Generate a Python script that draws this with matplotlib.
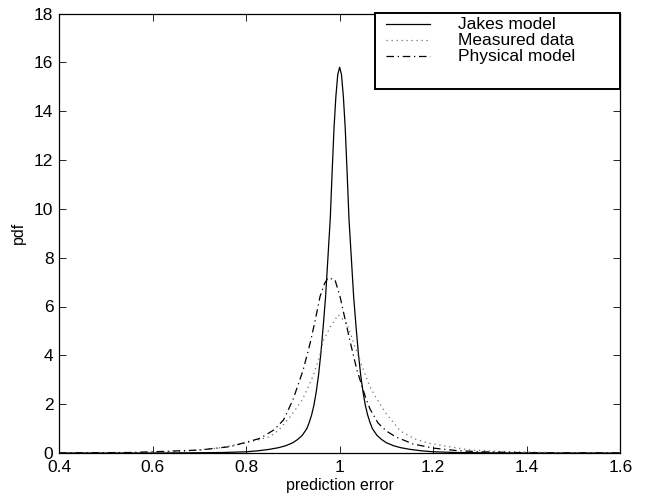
import numpy as np
import matplotlib
matplotlib.use("Agg")
import matplotlib.pyplot as plt

plt.rcParams['font.family'] = ['Liberation Sans', 'DejaVu Sans']

# Jakes model (solid)
jakes_x = [0.40, 0.60, 0.70, 0.75, 0.80, 0.825, 0.85, 0.87, 0.885, 0.90,
           0.91, 0.92, 0.93, 0.935, 0.94, 0.945, 0.95, 0.955, 0.96, 0.965,
           0.97, 0.975, 0.98, 0.984, 0.988, 0.992, 0.996, 1.000,
           1.004, 1.008, 1.012, 1.016, 1.020, 1.025, 1.030, 1.035, 1.040,
           1.045, 1.050, 1.055, 1.060, 1.065, 1.070, 1.080, 1.090, 1.100,
           1.115, 1.130, 1.150, 1.175, 1.200, 1.250, 1.300, 1.400, 1.600]
jakes_y = [0.00, 0.00, 0.01, 0.02, 0.05, 0.09, 0.15, 0.22, 0.30, 0.42,
           0.55, 0.72, 1.00, 1.25, 1.55, 1.95, 2.50, 3.20, 4.10, 5.20,
           6.40, 8.00, 9.60, 11.50, 13.30, 14.60, 15.50, 15.80,
           15.50, 14.60, 13.30, 11.50, 9.60, 8.00, 6.40, 5.20, 4.10,
           3.20, 2.50, 1.95, 1.55, 1.25, 1.00, 0.72, 0.55, 0.42,
           0.30, 0.22, 0.15, 0.09, 0.05, 0.02, 0.01, 0.00, 0.00]

# Measured data (dotted)
meas_x = [0.40, 0.55, 0.62, 0.67, 0.74, 0.80, 0.85, 0.87, 0.895, 0.92, 0.94,
          0.955, 0.965, 0.98, 0.997, 1.016, 1.03, 1.045, 1.065, 1.08, 1.10,
          1.13, 1.16, 1.19, 1.24, 1.28, 1.35, 1.45, 1.60]
meas_y = [0.00, 0.01, 0.03, 0.08, 0.20, 0.41, 0.66, 0.94, 1.50, 2.17, 3.00,
          3.80, 4.60, 5.16, 5.66, 5.30, 4.50, 3.70, 2.70, 2.20, 1.60,
          0.90, 0.58, 0.40, 0.24, 0.12, 0.06, 0.02, 0.00]

# Physical model (dash-dot)
phys_x = [0.40, 0.55, 0.60, 0.70, 0.766, 0.83, 0.86, 0.88, 0.90, 0.915, 0.922,
          0.937, 0.948, 0.958, 0.968, 0.975, 0.99, 1.001, 1.012, 1.022, 1.037,
          1.055, 1.065, 1.082, 1.10, 1.12, 1.157, 1.20, 1.25, 1.30, 1.40, 1.60]
phys_y = [0.00, 0.02, 0.05, 0.12, 0.26, 0.60, 0.95, 1.35, 2.17, 3.00, 3.40,
          4.50, 5.45, 6.40, 6.95, 7.17, 7.10, 6.40, 5.45, 4.60, 3.40,
          2.30, 1.80, 1.23, 0.90, 0.66, 0.37, 0.20, 0.10, 0.05, 0.01, 0.00]

labels = ['Jakes model', 'Measured data', 'Physical model']
colors = ['black', '#707070', 'black']
styles = ['-', (0, (1, 3)), (0, (6, 3, 1, 3))]

fig = plt.figure(figsize=(6.55, 5.0), dpi=100)
ax = fig.add_axes([0.090, 0.094, 0.857, 0.879])

series = [(jakes_x, jakes_y), (meas_x, meas_y), (phys_x, phys_y)]
for (xs, ys), c, ls in zip(series, colors, styles):
    ax.plot(xs, ys, color=c, linewidth=0.9, linestyle=ls)

ax.set_xlim(0.4, 1.6)
ax.set_ylim(0, 18)
ax.set_xticks([0.4, 0.6, 0.8, 1.0, 1.2, 1.4, 1.6])
ax.set_xticklabels(['0.4', '0.6', '0.8', '1', '1.2', '1.4', '1.6'])
ax.set_yticks(range(0, 19, 2))
ax.tick_params(direction='in', top=True, right=True, length=5, width=0.6,
               labelsize=12.5)
ax.tick_params(axis='x', pad=5)
ax.tick_params(axis='y', pad=4)
for s in ax.spines.values():
    s.set_linewidth(0.9)

ax.set_xlabel('prediction error', fontsize=11.5, labelpad=2)
ax.set_ylabel('pdf', fontsize=11.5, labelpad=6)

# legend box drawn MATLAB-style
box = plt.Rectangle((0.563, 0.828), 0.437, 0.172, transform=ax.transAxes,
                    facecolor='white', edgecolor='black', linewidth=1.4,
                    zorder=5, clip_on=False)
ax.add_patch(box)
rows = [0.975, 0.939, 0.903]
for lab, c, ls, yy in zip(labels, colors, styles, rows):
    ax.plot([0.583, 0.661], [yy, yy], transform=ax.transAxes, color=c,
            linewidth=0.9, linestyle=ls, zorder=6, clip_on=False)
    ax.text(0.711, yy, lab, transform=ax.transAxes, fontsize=12.5,
            va='center', ha='left', zorder=6)

plt.savefig('out.png', dpi=100)
